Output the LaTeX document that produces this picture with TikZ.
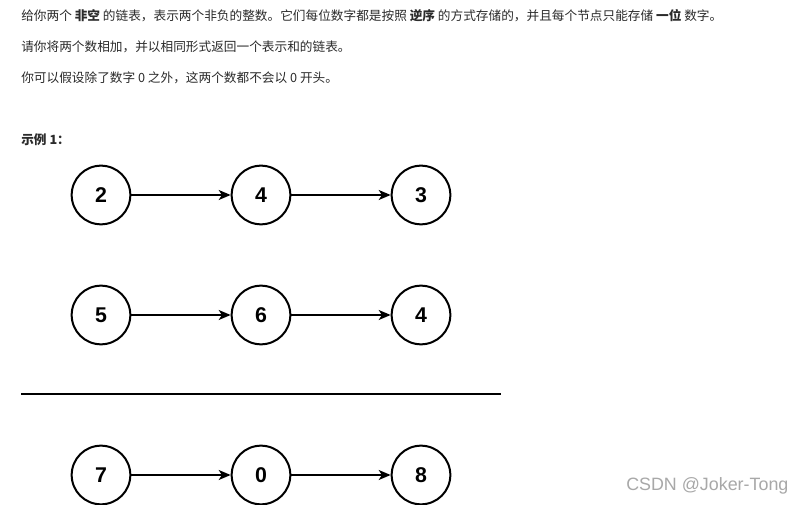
\documentclass[tikz,border=0pt]{standalone}
\usepackage{fontspec}
\setmainfont{Liberation Sans}
\newfontfamily\cjk{Noto Sans CJK SC}
\usetikzlibrary{arrows.meta}
\definecolor{txt}{HTML}{2B2B2B}
\definecolor{wm}{HTML}{A8A8A8}
\tikzset{
  num/.style={circle,draw=black,line width=1.5pt,minimum size=44pt,inner sep=0pt,font=\fontsize{16}{16}\selectfont\bfseries},
  link/.style={line width=1.1pt,-{Stealth[length=9pt,width=7.5pt,inset=2.5pt]}},
  para/.style={anchor=west,inner sep=0pt,text=txt,font=\cjk\fontsize{9.5}{12}\selectfont},
}
\begin{document}
\begin{tikzpicture}[x=0.75pt,y=-0.75pt]
\useasboundingbox (0,0) rectangle (806,505);
\fill[white] (0,0) rectangle (806,505);
\node[para] (t1) at (21,16) {给你两个 \textbf{非空} 的链表，表示两个非负的整数。它们每位数字都是按照 \textbf{逆序} 的方式存储的，并且每个节点只能存储 \textbf{一位} 数字。};
\node[para] (t2) at (21,47) {请你将两个数相加，并以相同形式返回一个表示和的链表。};
\node[para] (t3) at (21,78) {你可以假设除了数字 0 之外，这两个数都不会以 0 开头。};
\node[para] (t4) at (21,140) {\textbf{示例 1：}};

\node[num] (a1) at (101,195) {2};
\node[num] (a2) at (261,195) {4};
\node[num] (a3) at (421,195) {3};
\node[num] (b1) at (101,315) {5};
\node[num] (b2) at (261,315) {6};
\node[num] (b3) at (421,315) {4};
\node[num] (c1) at (101,475) {7};
\node[num] (c2) at (261,475) {0};
\node[num] (c3) at (421,475) {8};
\draw[link] (a1) -- (a2);
\draw[link] (a2) -- (a3);
\draw[link] (b1) -- (b2);
\draw[link] (b2) -- (b3);
\draw[link] (c1) -- (c2);
\draw[link] (c2) -- (c3);

\coordinate (l1) at (21,394);
\coordinate (l2) at (501,394);
\draw[line width=1.5pt,black] (l1) -- (l2);

\node[anchor=west,inner sep=0pt,text=wm,font=\fontsize{13.4}{14}\selectfont] (wm) at (626,486) {CSDN @Joker-Tong};
\end{tikzpicture}
\end{document}
